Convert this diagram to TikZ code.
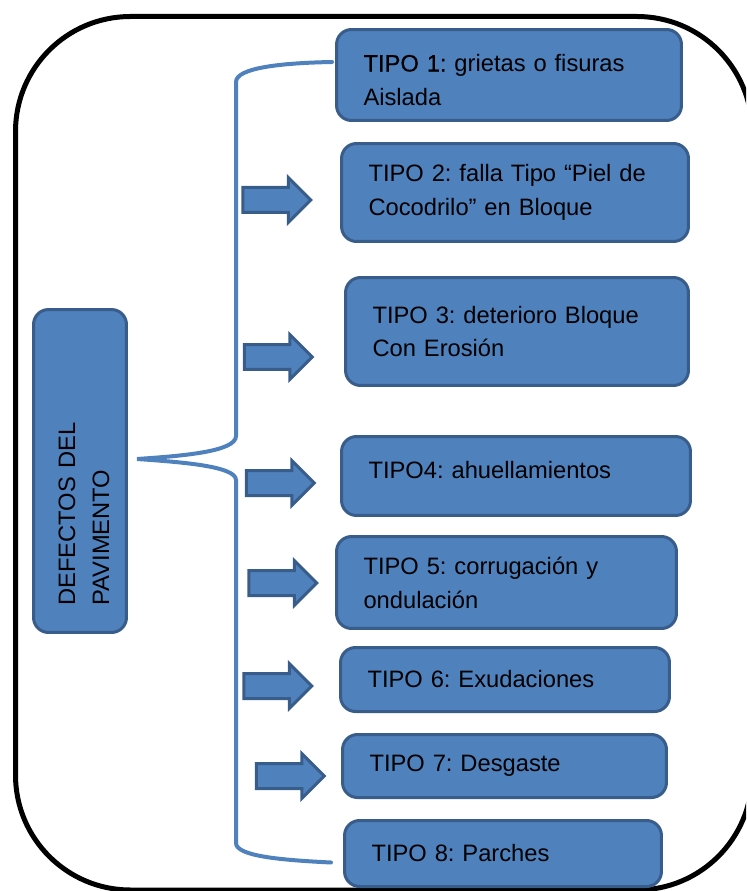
\documentclass[tikz,border=0pt]{standalone}
\usepackage{fontspec}
\setmainfont{Liberation Sans}
\newfontfamily\gruesa[FakeBold=0.6]{Liberation Sans}
\usetikzlibrary{shapes.arrows}
\definecolor{relleno}{HTML}{4F81BD}
\definecolor{borde}{HTML}{385D8A}
\frenchspacing

\begin{document}
\begin{tikzpicture}[x=0.02cm, y=-0.02cm]
	\tikzstyle{tipo}=[rectangle, rounded corners=0.3cm, draw=borde, fill=relleno, line width=0.06cm, align=left, inner xsep=0.54cm, inner ysep=0pt, font=\fontsize{13.5}{19.3}\selectfont]
	\tikzstyle{flecha}=[single arrow, draw=borde, fill=relleno, line width=0.06cm, minimum height=1.36cm, minimum width=0.84cm, single arrow head extend=0.2cm, inner xsep=0pt, inner ysep=0.22cm]
	\tikzstyle{rama}=[draw=relleno, line width=0.08cm, line cap=round]

	\useasboundingbox (0,0) rectangle (746,891);
	\clip (0,0) rectangle (746,891);

	% Marco
	\draw [line width=0.1cm, rounded corners=2.3cm] (15.5,16.5) rectangle (752,890);

	% Defectos
	\node at (80,471) [tipo, rotate=90, minimum width=6.46cm, minimum height=1.86cm, text width=5.38cm] (defectos) {\raisebox{-0.08cm}[\height][\depth]{\parbox{5.38cm}{DEFECTOS DEL\\PAVIMENTO}}};

	% Tipos
	\node at (509,75) [tipo, minimum height=1.82cm, text width=5.82cm] (tipo_1) {\raisebox{-0.1cm}[\height][\depth]{\parbox{5.82cm}{{\gruesa TIPO 1:} grietas o fisuras\\Aislada}}};
	\node at (515,192.5) [tipo, minimum height=1.96cm, text width=5.86cm] (tipo_2) {TIPO 2: falla Tipo “Piel de\\Cocodrilo” en Bloque};
	\node at (517,331.5) [tipo, minimum height=2.16cm, text width=5.78cm] (tipo_3) {TIPO 3: deterioro Bloque\\Con Erosión};
	\node at (516,476) [tipo, minimum height=1.58cm, text width=5.90cm] (tipo_4) {\raisebox{0.12cm}[\height][\depth]{TIPO4: ahuellamientos}};
	\node at (506.5,582.5) [tipo, minimum height=1.84cm, text width=5.72cm] (tipo_5) {TIPO 5: corrugación y\\ondulación};
	\node at (505,679.5) [tipo, minimum height=1.28cm, text width=5.50cm] (tipo_6) {TIPO 6: Exudaciones};
	\node at (504.5,766) [tipo, minimum height=1.26cm, text width=5.40cm] (tipo_7) {TIPO 7: Desgaste};
	\node at (503,853.5) [tipo, minimum height=1.32cm, text width=5.26cm] (tipo_8) {TIPO 8: Parches};

	% Flechas
	\foreach \n/\x/\y in {2/270.5/200, 3/272/357, 4/274/483, 5/276.5/583, 6/271.5/686, 7/284/776}
	\node at (\x, \y) [flecha] (flecha_\n) {};

	% Llave
	\coordinate (punta) at ([shift={(57,-12)}]defectos.center);
	\draw [rama] ([shift={(-3,-13)}]tipo_1.west) .. controls (280,63) and (236,68) .. (236,82) -- (236,436)
		.. controls (236,452) and (180,456) .. (punta)
		.. controls (180,462) and (236,466) .. (236,480) -- (236,843)
		.. controls (236,856) and (280,860) .. ([shift={(-12,9)}]tipo_8.west);

\end{tikzpicture}
\end{document}
